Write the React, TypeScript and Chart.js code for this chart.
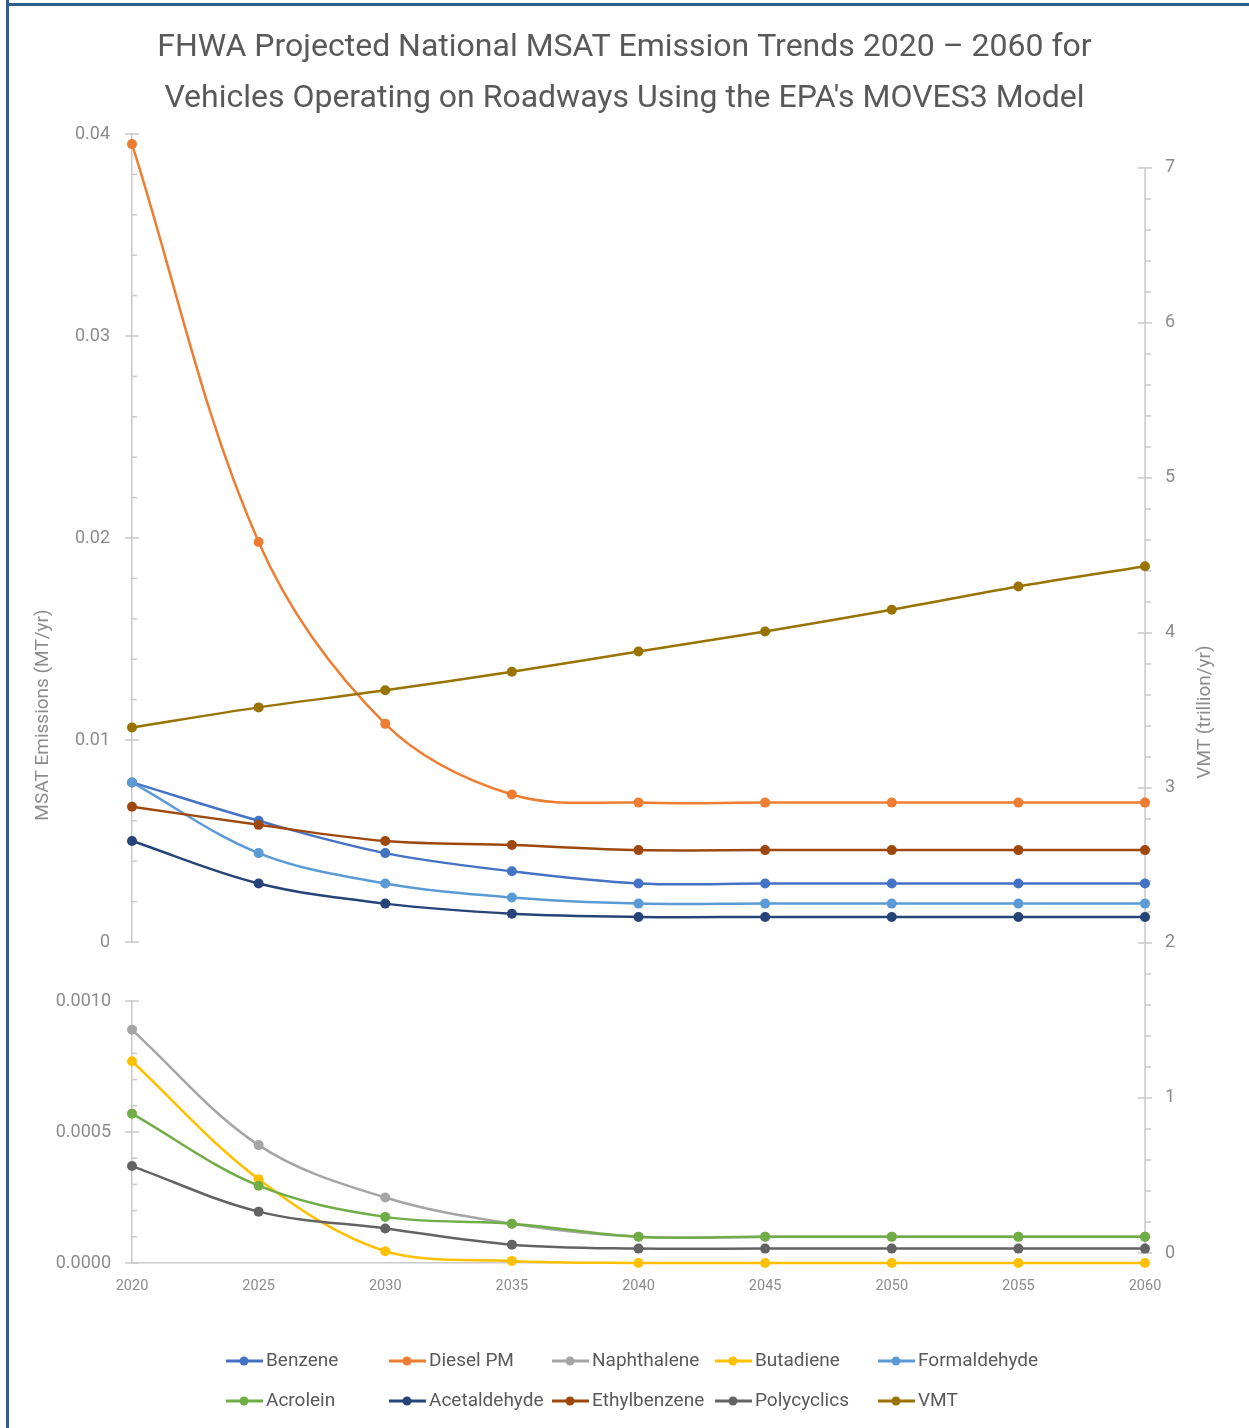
import React, { useEffect, useRef } from 'react';
import { Chart, registerables } from 'chart.js';

Chart.register(...registerables);

// ---------- data ----------
const years = [2020, 2025, 2030, 2035, 2040, 2045, 2050, 2055, 2060];

const benzene = [0.0079, 0.006, 0.0044, 0.0035, 0.0029, 0.0029, 0.0029, 0.0029, 0.0029];
const dieselPM = [0.0395, 0.0198, 0.0108, 0.0073, 0.0069, 0.0069, 0.0069, 0.0069, 0.0069];
const naphthalene = [0.00089, 0.00045, 0.00025, 0.00015, 0.0001, 0.0001, 0.0001, 0.0001, 0.0001];
const butadiene = [0.00077, 0.00032, 0.000045, 0.000008, 0, 0, 0, 0, 0];
const formaldehyde = [0.0079, 0.0044, 0.0029, 0.0022, 0.0019, 0.0019, 0.0019, 0.0019, 0.0019];
const acrolein = [0.00057, 0.000295, 0.000176, 0.00015, 0.0001, 0.0001, 0.0001, 0.0001, 0.0001];
const acetaldehyde = [0.005, 0.0029, 0.0019, 0.0014, 0.00124, 0.00124, 0.00124, 0.00124, 0.00124];
const ethylbenzene = [0.0067, 0.0058, 0.005, 0.0048, 0.00455, 0.00455, 0.00455, 0.00455, 0.00455];
const polycyclics = [0.00037, 0.000196, 0.000132, 0.00007, 0.000055, 0.000055, 0.000055, 0.000055, 0.000055];
const vmt = [3.39, 3.52, 3.63, 3.75, 3.88, 4.01, 4.15, 4.3, 4.43];

const seriesNames = ['Benzene', 'Diesel PM', 'Naphthalene', 'Butadiene', 'Formaldehyde', 'Acrolein', 'Acetaldehyde', 'Ethylbenzene', 'Polycyclics', 'VMT'];
const seriesValues = [benzene, dieselPM, naphthalene, butadiene, formaldehyde, acrolein, acetaldehyde, ethylbenzene, polycyclics, vmt];
const seriesColors = ['#4472C4', '#ED7D31', '#A5A5A5', '#FFC000', '#5B9BD5', '#70AD47', '#264478', '#9E480E', '#636363', '#997300'];
const seriesAxes = ['yTop', 'yTop', 'yBottom', 'yBottom', 'yTop', 'yBottom', 'yTop', 'yTop', 'yBottom', 'yR'];

const topTicks = [0, 0.01, 0.02, 0.03, 0.04];
const topTickLabels = ['0', '0.01', '0.02', '0.03', '0.04'];
const bottomTicks = [0, 0.0005, 0.001];
const bottomTickLabels = ['0.0000', '0.0005', '0.0010'];
const vmtTicks = [0, 1, 2, 3, 4, 5, 6, 7];
const vmtTickLabels = ['0', '1', '2', '3', '4', '5', '6', '7'];
const xTickLabels = ['2020', '2025', '2030', '2035', '2040', '2045', '2050', '2055', '2060'];

const titleLines = [
  'FHWA Projected National MSAT Emission Trends 2020 \u2013 2060 for',
  "Vehicles Operating on Roadways Using the EPA's MOVES3 Model",
];
const leftAxisTitle = 'MSAT Emissions (MT/yr)';
const rightAxisTitle = 'VMT (trillion/yr)';

// ---------- style ----------
const FONT = 'Roboto, "Noto Sans", "Liberation Sans", sans-serif';
const TICK_COLOR = '#8c8c8c';
const AXIS_COLOR = '#c9c9c9';
const TEXT_COLOR = '#595959';

const decorPlugin = {
  id: 'decor',
  beforeDatasetsDraw(chart: any) {
    const ctx = chart.ctx;
    ctx.save();
    ctx.strokeStyle = AXIS_COLOR;
    ctx.lineWidth = 1.5;
    const line = (x1: number, y1: number, x2: number, y2: number) => {
      ctx.beginPath();
      ctx.moveTo(x1, y1);
      ctx.lineTo(x2, y2);
      ctx.stroke();
    };
    const marks = (scale: any, majors: number[], parts: number, side: 'left' | 'right') => {
      const x = side === 'left' ? scale.right : scale.left;
      majors.forEach((v, i) => {
        const y = scale.getPixelForValue(v);
        line(x - 7, y, x + 7, y);
        if (i < majors.length - 1) {
          const step = (majors[i + 1] - v) / parts;
          for (let k = 1; k < parts; k++) {
            const yy = scale.getPixelForValue(v + step * k);
            if (side === 'left') line(x, yy, x + 5, yy);
            else line(x, yy, x + 6, yy);
          }
        }
      });
    };
    const s = chart.scales;
    marks(s.yTop, topTicks, 5, 'left');
    marks(s.yBottom, bottomTicks, 5, 'left');
    marks(s.yR, vmtTicks, 5, 'right');
    const xr = s.yR.left;
    line(xr, s.yR.getPixelForValue(vmtTicks[0]), xr, s.yR.getPixelForValue(vmtTicks[vmtTicks.length - 1]));
    ctx.restore();
  },
  afterDraw(chart: any) {
    const ctx = chart.ctx;
    ctx.save();
    ctx.fillStyle = TICK_COLOR;
    ctx.font = `19px ${FONT}`;
    ctx.textAlign = 'center';
    ctx.textBaseline = 'middle';
    ctx.save();
    ctx.translate(43, 715);
    ctx.rotate(-Math.PI / 2);
    ctx.fillText(leftAxisTitle, 0, 0);
    ctx.restore();
    ctx.save();
    ctx.translate(1205, 712);
    ctx.rotate(-Math.PI / 2);
    ctx.fillText(rightAxisTitle, 0, 0);
    ctx.restore();

    const ds = chart.data.datasets;
    ctx.font = `19px ${FONT}`;
    ctx.textAlign = 'left';
    ds.forEach((d: any, i: number) => {
      const col = i % 5;
      const row = Math.floor(i / 5);
      const tx = 266 + col * 163;
      const y = 1361 + row * 40;
      ctx.strokeStyle = d.borderColor;
      ctx.lineWidth = 3;
      ctx.beginPath();
      ctx.moveTo(tx - 40, y);
      ctx.lineTo(tx - 3, y);
      ctx.stroke();
      ctx.fillStyle = d.borderColor;
      ctx.beginPath();
      ctx.arc(tx - 22, y, 4.5, 0, Math.PI * 2);
      ctx.fill();
      ctx.fillStyle = TEXT_COLOR;
      ctx.fillText(d.label, tx, y);
    });
    ctx.restore();
  },
};

export default function App() {
  const ref = useRef<HTMLCanvasElement | null>(null);

  useEffect(() => {
    if (!ref.current) return;
    const n = seriesNames.length;
    const datasets = seriesNames.map((name, i) => ({
      label: name,
      data: years.map((x, j) => ({ x, y: seriesValues[i][j] })),
      borderColor: seriesColors[i],
      backgroundColor: seriesColors[i],
      pointBackgroundColor: seriesColors[i],
      pointBorderColor: seriesColors[i],
      pointBorderWidth: 0,
      pointRadius: 5,
      borderWidth: 2.5,
      tension: 0.35,
      yAxisID: seriesAxes[i],
      order: n - i,
      clip: false as any,
    }));

    const tickFont = { family: FONT, size: 18 };
    const chart = new Chart(ref.current, {
      type: 'line',
      data: { datasets },
      plugins: [decorPlugin],
      options: {
        responsive: false,
        maintainAspectRatio: false,
        animation: false,
        devicePixelRatio: 1,
        layout: { padding: { left: 0, right: 0, top: 0, bottom: 120 } },
        plugins: {
          legend: { display: false },
          tooltip: { enabled: false },
          title: {
            display: true,
            text: titleLines,
            color: TEXT_COLOR,
            font: { family: FONT, size: 32, weight: 'normal', lineHeight: 1.5938 },
            padding: { top: 22, bottom: 10 },
          },
        },
        scales: {
          x: {
            type: 'linear',
            position: 'bottom',
            min: 2020,
            max: 2060,
            afterBuildTicks: (s: any) => {
              s.ticks = years.map((v) => ({ value: v }));
            },
            ticks: {
              callback: (v: any) => xTickLabels[years.indexOf(v)],
              color: TICK_COLOR,
              font: { family: FONT, size: 14.5 },
              padding: 15,
              maxRotation: 0,
              autoSkip: false,
            },
            grid: { display: false, drawTicks: false },
            border: { display: true, color: AXIS_COLOR, width: 1.5 },
            afterFit: (s: any) => {
              s.height = 45;
            },
          },
          yBottom: {
            type: 'linear',
            position: 'left',
            stack: 'left',
            stackWeight: 262,
            weight: 1,
            min: 0,
            max: 0.001,
            afterBuildTicks: (s: any) => {
              s.ticks = bottomTicks.map((v) => ({ value: v }));
            },
            ticks: {
              callback: (v: any) => bottomTickLabels[bottomTicks.indexOf(v)],
              color: TICK_COLOR,
              font: tickFont,
              padding: 21,
              autoSkip: false,
            },
            grid: { display: false, drawTicks: false },
            border: { display: true, color: AXIS_COLOR, width: 1.5 },
            afterFit: (s: any) => {
              s.width = 132;
            },
          },
          yGap: {
            type: 'linear',
            position: 'left',
            stack: 'left',
            stackWeight: 59,
            weight: 2,
            min: 0,
            max: 1,
            ticks: { display: false },
            grid: { display: false, drawTicks: false },
            border: { display: false },
            afterFit: (s: any) => {
              s.width = 132;
            },
          },
          yTop: {
            type: 'linear',
            position: 'left',
            stack: 'left',
            stackWeight: 808,
            weight: 3,
            min: 0,
            max: 0.04,
            afterBuildTicks: (s: any) => {
              s.ticks = topTicks.map((v) => ({ value: v }));
            },
            ticks: {
              callback: (v: any) => topTickLabels[topTicks.indexOf(v)],
              color: TICK_COLOR,
              font: tickFont,
              padding: 22,
              autoSkip: false,
            },
            grid: { display: false, drawTicks: false },
            border: { display: true, color: AXIS_COLOR, width: 1.5 },
            afterFit: (s: any) => {
              s.width = 132;
            },
          },
          yR: {
            type: 'linear',
            position: 'right',
            min: -0.0645,
            max: 7.219,
            afterBuildTicks: (s: any) => {
              s.ticks = vmtTicks.map((v) => ({ value: v }));
            },
            ticks: {
              callback: (v: any) => vmtTickLabels[vmtTicks.indexOf(v)],
              color: TICK_COLOR,
              font: tickFont,
              padding: 20,
              autoSkip: false,
            },
            grid: { display: false, drawTicks: false },
            border: { display: false },
            afterFit: (s: any) => {
              s.width = 104;
            },
          },
        },
      } as any,
    });
    return () => chart.destroy();
  }, []);

  return (
    <div style={{ position: 'absolute', left: 0, top: 0, width: 1249, height: 1428, background: '#ffffff' }}>
      <canvas ref={ref} width={1249} height={1428} style={{ display: 'block', width: 1249, height: 1428 }} />
      <div style={{ position: 'absolute', left: 6, top: 0, width: 3, height: 1428, background: '#2e5e8c' }} />
      <div style={{ position: 'absolute', left: 6, top: 3, width: 1243, height: 3, background: '#2e5e8c' }} />
    </div>
  );
}
